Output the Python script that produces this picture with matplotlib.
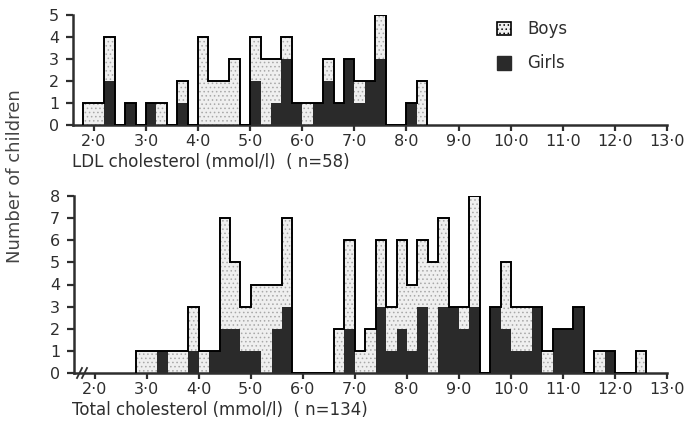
import matplotlib
matplotlib.use("Agg")
import matplotlib.pyplot as plt
from matplotlib.patches import Rectangle
from matplotlib.lines import Line2D
import numpy as np

# ---------------- data (bins of 0.2 mmol/l, value = left edge) ----------------
ldl_bins = [1.8, 2.0, 2.2, 2.4, 2.6, 2.8, 3.0, 3.2, 3.4, 3.6, 3.8, 4.0, 4.2, 4.4,
            4.6, 4.8, 5.0, 5.2, 5.4, 5.6, 5.8, 6.0, 6.2, 6.4, 6.6, 6.8, 7.0, 7.2,
            7.4, 7.6, 7.8, 8.0, 8.2]
ldl_boys = [1, 1, 2, 0, 0, 0, 0, 1, 0, 1, 0, 4, 2, 2, 3, 0, 2, 3, 2, 1, 0, 1, 0, 1,
            0, 0, 1, 0, 2, 0, 0, 0, 2]
ldl_girls = [0, 0, 2, 0, 1, 0, 1, 0, 0, 1, 0, 0, 0, 0, 0, 0, 2, 0, 1, 3, 1, 0, 1, 2,
             1, 3, 1, 2, 3, 0, 0, 1, 0]

tot_bins = [2.8, 3.0, 3.2, 3.4, 3.6, 3.8, 4.0, 4.2, 4.4, 4.6, 4.8, 5.0, 5.2, 5.4,
            5.6, 5.8, 6.0, 6.2, 6.4, 6.6, 6.8, 7.0, 7.2, 7.4, 7.6, 7.8, 8.0, 8.2,
            8.4, 8.6, 8.8, 9.0, 9.2, 9.4, 9.6, 9.8, 10.0, 10.2, 10.4, 10.6, 10.8,
            11.0, 11.2, 11.4, 11.6, 11.8, 12.0, 12.2, 12.4]
tot_boys = [1, 1, 0, 1, 1, 2, 1, 0, 5, 3, 2, 3, 4, 2, 4, 0, 0, 0, 0, 2, 4, 1, 2, 3,
            2, 4, 3, 3, 5, 4, 0, 1, 5, 0, 0, 3, 2, 2, 0, 1, 0, 0, 0, 0, 1, 0, 0, 0, 1]
tot_girls = [0, 0, 1, 0, 0, 1, 0, 1, 2, 2, 1, 1, 0, 2, 3, 0, 0, 0, 0, 0, 2, 0, 0, 3,
             1, 2, 1, 3, 0, 3, 3, 2, 3, 0, 3, 2, 1, 1, 3, 0, 2, 2, 3, 0, 0, 1, 0, 0, 0]

x_ticks = [2, 3, 4, 5, 6, 7, 8, 9, 10, 11, 12, 13]
x_ticklabels = ["2·0", "3·0", "4·0", "5·0", "6·0", "7·0", "8·0", "9·0",
                "10·0", "11·0", "12·0", "13·0"]
ldl_label = "LDL cholesterol (mmol/l)  ( n=58)"
tot_label = "Total cholesterol (mmol/l)  ( n=134)"
ylabel = "Number of children"
legend_labels = ["Boys", "Girls"]

BIN_W = 0.2
BOY_FACE = "#efefef"
BOY_DOT = "#a8a8a8"
GIRL_FACE = "#2a2a2a"
INK = "#2e2e2e"

W, H = 689, 425
fig = plt.figure(figsize=(W / 100, H / 100), dpi=100)
plt.rcParams["hatch.linewidth"] = 0.6


def px_ax(left, top, right, bottom):
    return fig.add_axes([left / W, 1 - bottom / H, (right - left) / W, (bottom - top) / H])


def draw_panel(ax, bins, boys, girls, ymax):
    bins = np.asarray(bins)
    boys = np.asarray(boys)
    girls = np.asarray(girls)
    ax.bar(bins, girls, width=BIN_W, align="edge", color=GIRL_FACE, linewidth=0, zorder=2)
    ax.bar(bins, boys, width=BIN_W, bottom=girls, align="edge", facecolor=BOY_FACE,
           edgecolor=BOY_DOT, hatch="....", linewidth=0, zorder=2)
    edges = np.append(bins, bins[-1] + BIN_W)
    ax.stairs(boys + girls, edges, baseline=0, color="black", linewidth=1.4, zorder=3)
    ax.set_xlim(1.6, 13.0)
    ax.set_ylim(0, ymax)
    ax.set_xticks(x_ticks)
    ax.set_xticklabels(x_ticklabels)
    ax.set_yticks(range(ymax + 1))
    ax.set_yticklabels([str(i) for i in range(ymax + 1)])
    for s in ("top", "right"):
        ax.spines[s].set_visible(False)
    for s in ("left", "bottom"):
        ax.spines[s].set_linewidth(1.8)
        ax.spines[s].set_color(INK)
    ax.tick_params(axis="x", length=4, width=1.6, pad=2.5, labelsize=11.5, colors=INK)
    ax.tick_params(axis="y", length=5, width=1.6, pad=5, labelsize=11.5, colors=INK)
    ax.patch.set_alpha(0)


ax1 = px_ax(73, 15, 667, 125)
draw_panel(ax1, ldl_bins, ldl_boys, ldl_girls, 5)
ax2 = px_ax(74, 196, 667, 373)
draw_panel(ax2, tot_bins, tot_boys, tot_girls, 8)

fig.text(72 / W, 1 - 162 / H, ldl_label, ha="left", va="center", fontsize=12, color=INK)
fig.text(72 / W, 1 - 410 / H, tot_label, ha="left", va="center", fontsize=12, color=INK)
fig.text(15 / W, 1 - 176 / H, ylabel, rotation=90, ha="center", va="center",
         fontsize=13, color="#444444")

# axis break marks on the lower panel
for dx in (0, 5):
    fig.add_artist(Line2D([(77 + dx) / W, (82 + dx) / W], [1 - 378 / H, 1 - 368 / H],
                          color=INK, linewidth=1.3))

# legend
fig.add_artist(Rectangle((497 / W, 1 - 35 / H), 14 / W, 13 / H, facecolor=BOY_FACE,
                         edgecolor="black", linewidth=1.2, hatch="....",
                         transform=fig.transFigure))
fig.add_artist(Rectangle((497 / W, 1 - 70 / H), 14 / W, 14 / H, facecolor=GIRL_FACE,
                         edgecolor=GIRL_FACE, linewidth=1.0, transform=fig.transFigure))
fig.text(527 / W, 1 - 29 / H, legend_labels[0], ha="left", va="center", fontsize=12, color=INK)
fig.text(527 / W, 1 - 63 / H, legend_labels[1], ha="left", va="center", fontsize=12, color=INK)

fig.savefig("out.png", dpi=100, facecolor="white")
